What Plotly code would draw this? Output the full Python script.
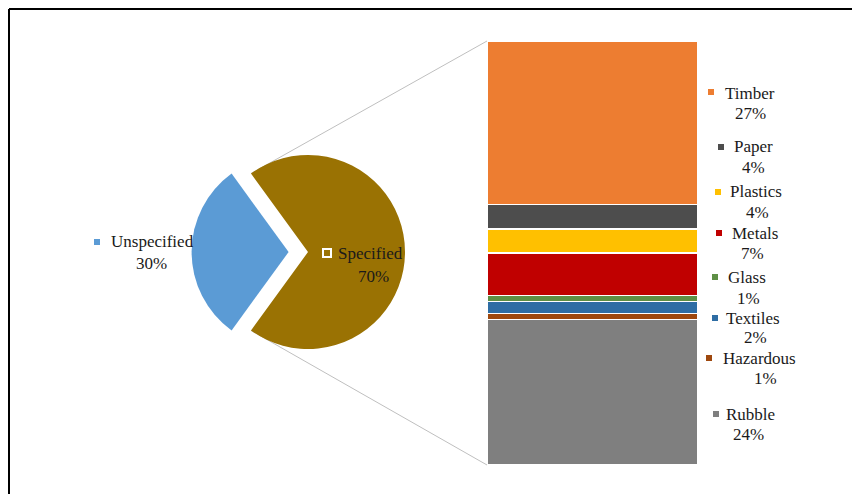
import math
import plotly.graph_objects as go

W, H = 860, 494
OFF = 8  # page body margin added around the figure

# ---- data ----
pie_labels = ["Unspecified", "Specified"]
pie_values = [30, 70]
pie_colors = ["#5B9BD5", "#9A7203"]

bar_labels = ["Rubble", "Hazardous", "Textiles", "Glass", "Metals", "Plastics", "Paper", "Timber"]
bar_values = [24, 1, 2, 1, 7, 4, 4, 27]
bar_colors = ["#7F7F7F", "#9E480E", "#2E6DA4", "#5E8F45", "#C00000", "#FFC000", "#4D4D4D", "#ED7D31"]


def px(x):
    return (x - OFF) / W


def py(y):
    return 1 - (y - OFF) / H


fig = go.Figure()

# ---- pie ----
cx, cy, r = 308, 252, 97
pull = 0.2
half = r * (1 + pull)
fig.add_trace(go.Pie(
    labels=pie_labels, values=pie_values, sort=False, direction="clockwise",
    rotation=270 - pie_values[0] / sum(pie_values) * 180,
    pull=[pull, 0], marker=dict(colors=pie_colors, line=dict(width=0)),
    textinfo="none", hoverinfo="label+percent", showlegend=False,
    domain=dict(x=[px(cx - half), px(cx + half)], y=[py(cy + half), py(cy - half)]),
))

# ---- stacked bar ----
bx0, bx1, by0, by1 = 487, 698, 41, 465
for lab, val, col in zip(bar_labels, bar_values, bar_colors):
    fig.add_trace(go.Bar(
        x=[0], y=[val], name=lab, marker=dict(color=col, line=dict(color="white", width=1.5)),
        width=1, xaxis="x2", yaxis="y2", showlegend=False,
    ))

total_bar = sum(bar_values)
fig.update_layout(
    barmode="stack",
    width=W, height=H,
    margin=dict(l=0, r=0, t=0, b=0),
    paper_bgcolor="white", plot_bgcolor="rgba(0,0,0,0)",
    xaxis=dict(visible=False),
    yaxis=dict(visible=False),
    xaxis2=dict(domain=[px(bx0), px(bx1)], range=[-0.5, 0.5], visible=False, anchor="y2"),
    yaxis2=dict(domain=[py(by1), py(by0)], range=[0, total_bar], visible=False, anchor="x2"),
)

# ---- connector lines (from specified slice corners to bar corners) ----
spec_half_angle = pie_values[1] / sum(pie_values) * 180
top_corner = (cx + r * math.cos(math.radians(spec_half_angle)), cy - r * math.sin(math.radians(spec_half_angle)))
bot_corner = (cx + r * math.cos(math.radians(spec_half_angle)), cy + r * math.sin(math.radians(spec_half_angle)))
shapes = [
    dict(type="line", xref="paper", yref="paper", x0=px(top_corner[0]), y0=py(top_corner[1]),
         x1=px(bx0), y1=py(by0), line=dict(color="#BFBFBF", width=1), layer="below"),
    dict(type="line", xref="paper", yref="paper", x0=px(bot_corner[0]), y0=py(bot_corner[1]),
         x1=px(bx0), y1=py(by1), line=dict(color="#BFBFBF", width=1), layer="below"),
    # chart border (top & left visible)
    dict(type="line", xref="paper", yref="paper", x0=px(9), y0=py(9), x1=px(W + 20), y1=py(9),
         line=dict(color="black", width=2)),
    dict(type="line", xref="paper", yref="paper", x0=px(9), y0=py(9), x1=px(9), y1=py(H + 20),
         line=dict(color="black", width=2)),
]

# ---- labels ----
font = dict(family="Liberation Serif", size=17, color="#1A1A1A")
annotations = []


def add_label(name, pct, sq, l1, l2, color, sq_size=6, sq_line=None):
    sx, sy = sq
    annotations.append(dict(x=px(l1[0]), y=py(l1[1]), xref="paper", yref="paper", text=name,
                            showarrow=False, xanchor="center", yanchor="middle", font=font))
    annotations.append(dict(x=px(l2[0]), y=py(l2[1]), xref="paper", yref="paper", text=pct,
                            showarrow=False, xanchor="center", yanchor="middle", font=font))
    h = sq_size / 2
    shapes.append(dict(type="rect", xref="paper", yref="paper", x0=px(sx - h), x1=px(sx + h),
                       y0=py(sy + h), y1=py(sy - h), fillcolor=color,
                       line=dict(color=sq_line or color, width=2 if sq_line else 0)))


bar_label_pos = {
    "Timber": ((711, 92), (750, 93), (750, 113)),
    "Paper": ((721, 147), (753, 147), (753, 168)),
    "Plastics": ((718, 192), (756, 192), (757, 212)),
    "Metals": ((719, 233), (755, 233), (752, 253)),
    "Glass": ((715, 277), (747, 277), (748, 298)),
    "Textiles": ((715, 318), (753, 318), (755, 337)),
    "Hazardous": ((709, 358), (759, 358), (765, 378)),
    "Rubble": ((716, 414), (750, 414), (748, 434)),
}
for lab, val, col in zip(bar_labels, bar_values, bar_colors):
    sq, l1, l2 = bar_label_pos[lab]
    add_label(lab, f"{val}%", sq, l1, l2, col)

tot = sum(pie_values)
add_label(pie_labels[0], f"{round(pie_values[0] / tot * 100)}%", (97, 242), (152, 242), (151, 263),
          pie_colors[0])
add_label(pie_labels[1], f"{round(pie_values[1] / tot * 100)}%", (327, 253), (370, 253), (373, 276),
          pie_colors[1], sq_size=8, sq_line="white")

fig.update_layout(shapes=shapes, annotations=annotations)
fig.write_html("out.html")
